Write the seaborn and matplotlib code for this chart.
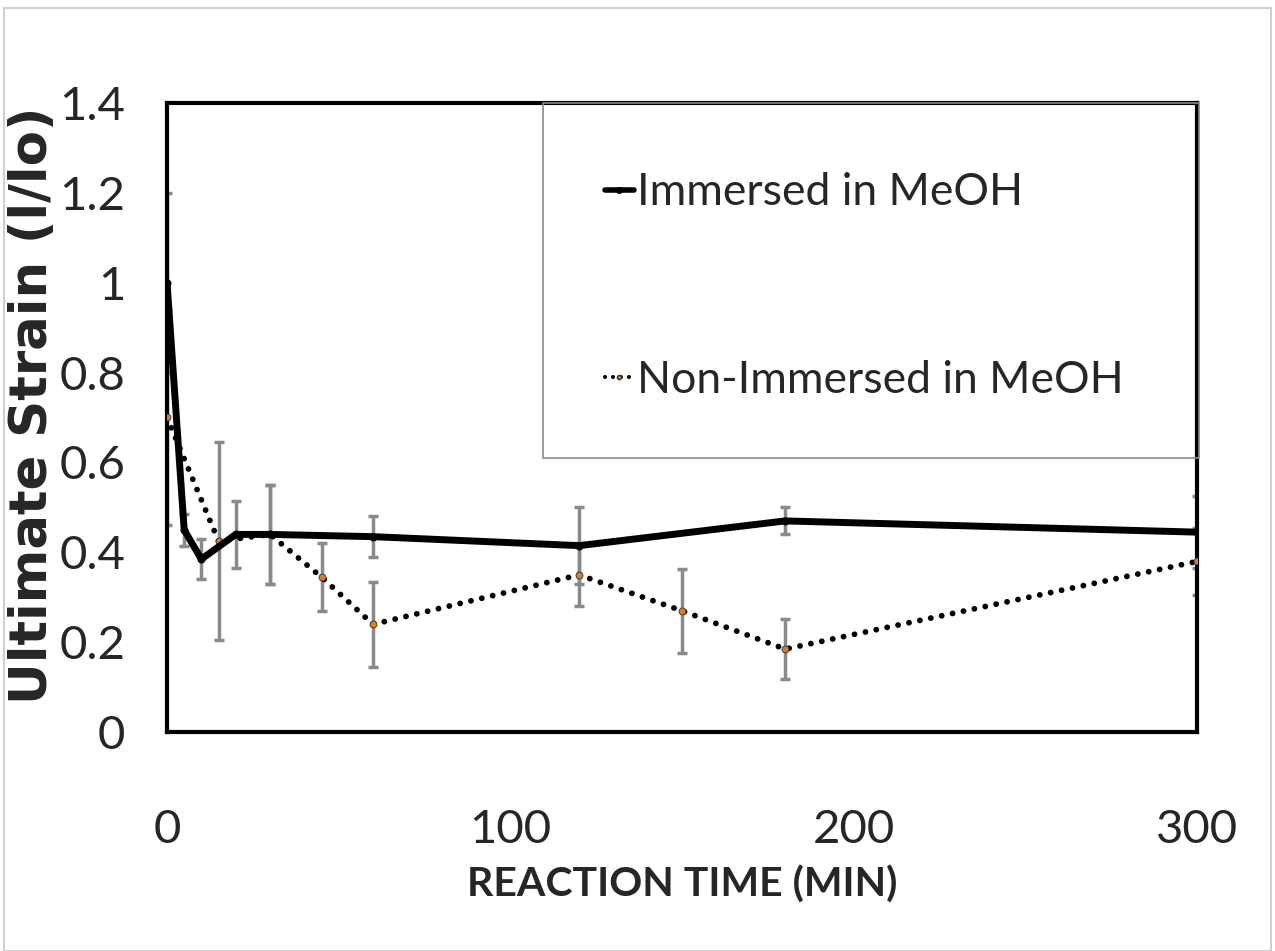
import matplotlib
matplotlib.use("Agg")
import matplotlib.pyplot as plt
import seaborn as sns
import pandas as pd
from matplotlib.lines import Line2D
from matplotlib.patches import Rectangle

# Data
time_imm = [0, 5, 10, 20, 30, 60, 120, 180, 300]
strain_imm = [1.0, 0.45, 0.385, 0.44, 0.44, 0.435, 0.415, 0.47, 0.445]
err_imm = [0.2, 0.035, 0.045, 0.075, 0.11, 0.045, 0.085, 0.03, 0.08]

time_non = [0, 15, 30, 45, 60, 120, 150, 180, 300]
strain_non = [0.70, 0.425, 0.44, 0.345, 0.24, 0.35, 0.27, 0.185, 0.38]
err_non = [0.24, 0.22, 0.11, 0.075, 0.095, 0.07, 0.093, 0.066, 0.075]

labels = ["Immersed in MeOH", "Non-Immersed in MeOH"]
xticks = [0, 100, 200, 300]
yticks = [0, 0.2, 0.4, 0.6, 0.8, 1.0, 1.2, 1.4]
yticklabels = ["0", "0.2", "0.4", "0.6", "0.8", "1", "1.2", "1.4"]

sns.set_theme(style="white")
FONT = ["Lato", "DejaVu Sans"]
plt.rcParams["font.family"] = FONT

fig = plt.figure(figsize=(12.75, 9.51), dpi=100)
ax = fig.add_axes([0.131, 0.230, 0.808, 0.662])

df_imm = pd.DataFrame({"time": time_imm, "strain": strain_imm})
df_non = pd.DataFrame({"time": time_non, "strain": strain_non})

DOTS = (0, (0.01, 1.9))

# error bars
ax.errorbar(time_imm, strain_imm, yerr=err_imm, fmt="none", ecolor="#8a8a8a",
            elinewidth=2.5, capsize=3.5, capthick=2.5, zorder=2)
ax.errorbar(time_non, strain_non, yerr=err_non, fmt="none", ecolor="#8a8a8a",
            elinewidth=2.5, capsize=3.5, capthick=2.5, zorder=2)

sns.lineplot(data=df_imm, x="time", y="strain", ax=ax, color="black",
             linewidth=5, marker="o", markersize=5, markerfacecolor="black",
             markeredgecolor="black", zorder=4, legend=False)
sns.lineplot(data=df_non, x="time", y="strain", ax=ax, color="black",
             linewidth=4.2, linestyle=DOTS, dash_capstyle="round",
             marker="o", markersize=5, markerfacecolor="#E07B20",
             markeredgecolor="#333333", markeredgewidth=0.6, zorder=3, legend=False)

ax.set_xlim(0, 300)
ax.set_ylim(0, 1.4)
ax.set_xticks(xticks)
ax.set_xticklabels([str(t) for t in xticks])
ax.set_yticks(yticks)
ax.set_yticklabels(yticklabels)
ax.tick_params(axis="x", length=0, pad=55, labelsize=34)
ax.tick_params(axis="y", length=0, pad=30, labelsize=34)
for lab in ax.get_xticklabels() + ax.get_yticklabels():
    lab.set_family(FONT)

ax.set_xlabel("REACTION TIME (MIN)", fontsize=29.5, fontweight="bold",
              family=FONT, labelpad=11)
ax.set_ylabel("Ultimate Strain (l/lo)", fontsize=37, fontweight="bold",
              family=["DejaVu Sans"])
ax.yaxis.set_label_coords(-0.106, 0.52)

for s in ax.spines.values():
    s.set_visible(True)
    s.set_color("black")
    s.set_linewidth(3)
ax.grid(False)

# legend box
ax.add_patch(Rectangle((0.365, 0.436), 0.637, 0.564, transform=ax.transAxes,
                       fill=False, edgecolor="#8a8a8a", linewidth=1.2,
                       clip_on=False, zorder=5))

handles = [
    Line2D([0], [0], color="black", linewidth=4, marker="o", markersize=4,
           markerfacecolor="black"),
    Line2D([0], [0], color="black", linewidth=3, linestyle=DOTS,
           dash_capstyle="round", marker="o", markersize=3,
           markerfacecolor="#E07B20", markeredgecolor="#333333"),
]
leg = ax.legend(handles, labels, loc="center left", bbox_to_anchor=(0.425, 0.708),
                borderaxespad=0, prop={"family": FONT, "size": 32},
                frameon=False, handlelength=0.65, handletextpad=0.08,
                labelspacing=3.3, borderpad=0)

# light outer border of the image
fig.patches.append(Rectangle((0.003, 0.0), 0.994, 0.992, transform=fig.transFigure,
                             fill=False, edgecolor="#d0d0d0", linewidth=1.5))

fig.savefig("out.png", dpi=100)
